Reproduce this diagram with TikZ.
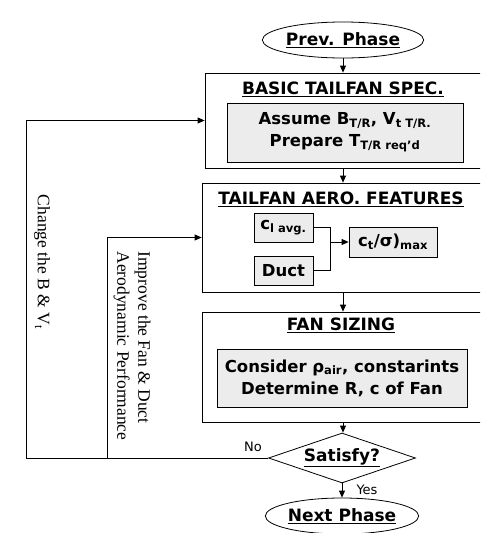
\documentclass[tikz,border=0pt]{standalone}
\usepackage{fontspec}
\setmainfont{Liberation Serif}
\setsansfont{DejaVu Sans}
\usetikzlibrary{shapes.geometric,arrows.meta}
\newcommand{\lowtx}[1]{\textsubscript{#1}}
\tikzset{
 box/.style={draw,line width=0.8pt,minimum width=288pt,inner sep=0pt},
 inbox/.style={draw,fill=gray!15,line width=0.8pt,inner sep=0pt,align=center,font=\sffamily\bfseries\fontsize{16.5}{22}\selectfont},
 ttl/.style={font=\sffamily\bfseries\fontsize{17}{20}\selectfont},
 term/.style={ellipse,draw,line width=0.8pt,minimum width=135pt,minimum height=36pt,inner sep=0pt,font=\sffamily\bfseries\fontsize{17}{20}\selectfont},
 arr/.style={-{Triangle[length=7pt,width=6pt]},line width=0.8pt},
 lbl/.style={font=\sffamily\fontsize{13}{15}\selectfont},
 note/.style={rotate=-90,align=left,font=\rmfamily\fontsize{17.5}{21}\selectfont}
}
\begin{document}
\begin{tikzpicture}[x=1pt,y=-1pt]
\useasboundingbox(0,0)rectangle(480,533);
\clip(0,0)rectangle(480,533);
% phases
\node[term](prev)at(343,40){\underline{Prev. Phase}};
\node[term](next)at(342,516){\underline{Next Phase}};
% basic spec
\node[box,minimum height=95pt](spec)at(349,120.5){};
\node[ttl](specT)at(343,89){\underline{BASIC TAILFAN SPEC.}};
\node[inbox,minimum width=236pt,minimum height=59pt](assume)at(345,132.5){Assume B\lowtx{T/R}, V\lowtx{t T/R.}\\Prepare T\lowtx{T/R req'd}};
% aero features
\node[box,minimum height=109pt](aero)at(346,237.5){};
\node[ttl](aeroT)at(341,199){\underline{TAILFAN AERO. FEATURES}};
\node[inbox,minimum width=59pt,minimum height=29pt](cl)at(283.5,227.5){c\lowtx{l avg.}};
\node[inbox,minimum width=59pt,minimum height=29pt](duct)at(283.5,270.5){Duct};
\node[inbox,minimum width=88pt,minimum height=30pt](ct)at(393,242){c\lowtx{t}/σ)\lowtx{max}};
\coordinate(jn)at(330,242);
% fan sizing
\node[box,minimum height=110pt](fan)at(346,367){};
\node[ttl](fanT)at(341,325){\underline{FAN SIZING}};
\node[inbox,minimum width=250pt,minimum height=58pt](cons)at(342,378){Consider ρ\lowtx{air}, constarints\\Determine R, c of Fan};
% check
\node[diamond,draw,line width=0.8pt,minimum width=147pt,minimum height=50pt,inner sep=0pt,aspect=2.9,font=\sffamily\bfseries\fontsize{17}{20}\selectfont](sat)at(342,458){\underline{Satisfy?}};
\coordinate(lo)at(26,458);
\coordinate(li)at(107,458);
% flow
\draw[arr](prev.south)--(prev.south|-spec.north);
\draw[arr](prev.south|-spec.south)--(prev.south|-aero.north);
\draw(cl.east)-|(jn);
\draw(duct.east)-|(jn);
\draw[arr](jn)--(ct.west);
\draw[arr](prev.south|-aero.south)--(prev.south|-fan.north);
\draw[arr](prev.south|-fan.south)--(prev.south|-sat.north);
\draw[arr](sat.south)--(next.north);
\draw[arr](sat.west)--(lo)|-(spec.west);
\draw[arr](li)|-(aero.west);
% labels
\node[lbl](no)at(253,447){No};
\node[lbl](yes)at(367,490){Yes};
\node[note](chg)at(42,262){Change the B \& V\lowtx{t}};
\node[note](imp)at(132,346){Improve the Fan \& Duct\\Aerodynamic Performance};
\end{tikzpicture}
\end{document}
